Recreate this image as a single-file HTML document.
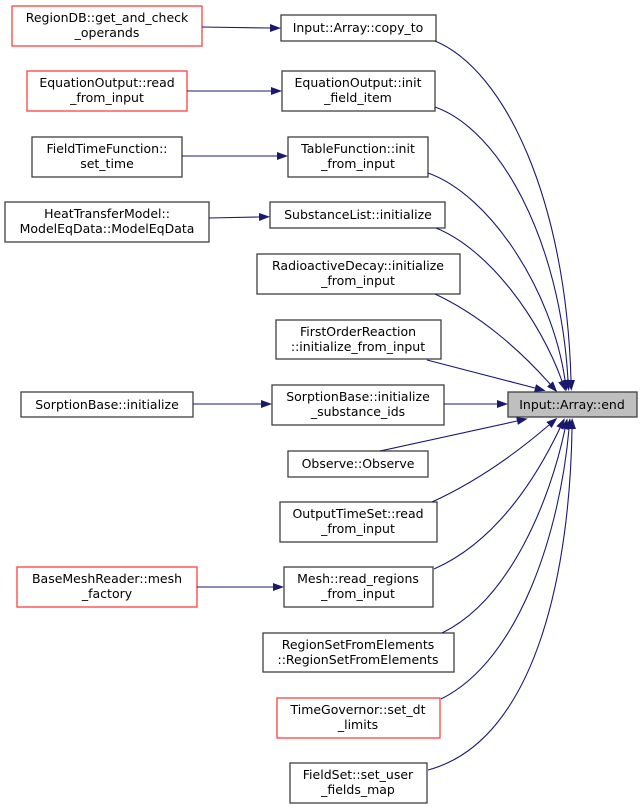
<!DOCTYPE html>
<html><head><meta charset="utf-8"><style>
html,body{margin:0;padding:0;background:#fff;}
svg{display:block;}
text{font-family:"DejaVu Sans","Liberation Sans",sans-serif;font-size:12.5px;fill:#000;text-anchor:middle;}
.n{fill:#fff;stroke:#404040;stroke-width:1.3;}
.r{fill:#fff;stroke:#ff4040;stroke-width:1.3;}
.e{fill:none;stroke:#191970;stroke-width:1.1;}
</style></head><body>
<svg width="643" height="809" viewBox="0 0 643 809" xmlns="http://www.w3.org/2000/svg">
<defs>
<marker id="a" markerWidth="11" markerHeight="8" refX="0" refY="4" orient="auto" markerUnits="userSpaceOnUse">
<path d="M0,0 L11,4 L0,8 z" fill="#191970"/>
</marker>
</defs>
<rect x="508" y="392" width="129" height="25" fill="#bfbfbf" stroke="#404040" stroke-width="1.3"/>
<text x="572" y="409">Input::Array::end</text>

<rect class="r" x="12" y="6" width="190" height="40"/><text x="107" y="22">RegionDB::get_and_check</text><text x="107" y="37">_operands</text>
<rect class="r" x="27" y="71" width="160" height="40"/><text x="107" y="87">EquationOutput::read</text><text x="107" y="102">_from_input</text>
<rect class="n" x="32" y="137" width="150" height="40"/><text x="107" y="153">FieldTimeFunction::</text><text x="107" y="168">set_time</text>
<rect class="n" x="5" y="202" width="204" height="40"/><text x="107" y="218">HeatTransferModel::</text><text x="107" y="233">ModelEqData::ModelEqData</text>
<rect class="n" x="21" y="392" width="172" height="25"/><text x="107" y="409">SorptionBase::initialize</text>
<rect class="r" x="17" y="567" width="180" height="40"/><text x="107" y="583">BaseMeshReader::mesh</text><text x="107" y="598">_factory</text>

<rect class="n" x="281" y="15" width="155" height="26"/><text x="358" y="32">Input::Array::copy_to</text>
<rect class="n" x="282" y="71" width="153" height="40"/><text x="358" y="87">EquationOutput::init</text><text x="358" y="102">_field_item</text>
<rect class="n" x="288" y="137" width="140" height="40"/><text x="358" y="153">TableFunction::init</text><text x="358" y="168">_from_input</text>
<rect class="n" x="270" y="202" width="175" height="26"/><text x="358" y="219">SubstanceList::initialize</text>
<rect class="n" x="257" y="254" width="203" height="40"/><text x="358" y="270">RadioactiveDecay::initialize</text><text x="358" y="285">_from_input</text>
<rect class="n" x="276" y="320" width="165" height="39"/><text x="358" y="336">FirstOrderReaction</text><text x="358" y="351">::initialize_from_input</text>
<rect class="n" x="272" y="385" width="172" height="40"/><text x="358" y="401">SorptionBase::initialize</text><text x="358" y="416">_substance_ids</text>
<rect class="n" x="288" y="451" width="140" height="26"/><text x="358" y="468">Observe::Observe</text>
<rect class="n" x="280" y="502" width="157" height="40"/><text x="358" y="518">OutputTimeSet::read</text><text x="358" y="533">_from_input</text>
<rect class="n" x="284" y="567" width="149" height="40"/><text x="358" y="583">Mesh::read_regions</text><text x="358" y="598">_from_input</text>
<rect class="n" x="263" y="633" width="191" height="39"/><text x="358" y="649">RegionSetFromElements</text><text x="358" y="664">::RegionSetFromElements</text>
<rect class="r" x="277" y="698" width="163" height="40"/><text x="358" y="714">TimeGovernor::set_dt</text><text x="358" y="729">_limits</text>
<rect class="n" x="290" y="763" width="137" height="40"/><text x="358" y="779">FieldSet::set_user</text><text x="358" y="794">_fields_map</text>

<path class="e" d="M202,27 L270,28" marker-end="url(#a)"/>
<path class="e" d="M187,91 L271,91" marker-end="url(#a)"/>
<path class="e" d="M182,156 L277,156" marker-end="url(#a)"/>
<path class="e" d="M209,218 L259,217" marker-end="url(#a)"/>
<path class="e" d="M193,404 L261,404" marker-end="url(#a)"/>
<path class="e" d="M197,587 L273,587" marker-end="url(#a)"/>
<path class="e" d="M444,404 L497,404" marker-end="url(#a)"/>

<path class="e" d="M435,41 C505,70 566,200 571,380" marker-end="url(#a)"/>
<path class="e" d="M435,107 C500,130 560,240 568,380" marker-end="url(#a)"/>
<path class="e" d="M428,173 C490,195 552,290 565,380" marker-end="url(#a)"/>
<path class="e" d="M436,228 C490,250 540,320 562,381" marker-end="url(#a)"/>
<path class="e" d="M435,294 C480,315 520,350 550,384" marker-end="url(#a)"/>
<path class="e" d="M427,360 L535,388" marker-end="url(#a)"/>

<path class="e" d="M380,451 L517,421" marker-end="url(#a)"/>
<path class="e" d="M432,502 C480,480 520,450 549,425" marker-end="url(#a)"/>
<path class="e" d="M434,569 C500,540 540,470 560,428" marker-end="url(#a)"/>
<path class="e" d="M442,633 C510,600 550,500 565,429" marker-end="url(#a)"/>
<path class="e" d="M441,699 C520,660 560,530 569,429" marker-end="url(#a)"/>
<path class="e" d="M428,770 C540,740 570,560 572,429" marker-end="url(#a)"/>
</svg>
</body></html>
